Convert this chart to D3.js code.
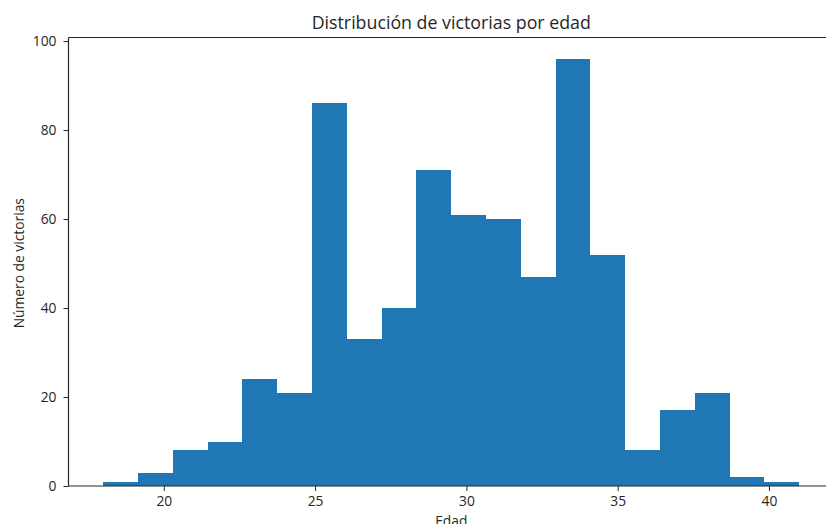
<!DOCTYPE html>
<html>
<head>
<meta charset="utf-8">
<script src="https://cdn.jsdelivr.net/npm/d3@7"></script>
<style>
  html, body { margin: 0; padding: 0; background: #fff; overflow: hidden; }
  svg { display: block; }
  text { font-family: "Open Sans", "Noto Sans", sans-serif; fill: #262626; }
</style>
</head>
<body>
<svg id="chart" width="826" height="524"></svg>
<script>
// Histogram bins: 20 equal-width bins spanning ages 18 to 41
const binStart = 18;
const binEnd = 41;
const binCount = 20;
const counts = [1, 3, 8, 10, 24, 21, 86, 33, 40, 71, 61, 60, 47, 96, 52, 8, 17, 21, 2, 1];
const xTicks = [20, 25, 30, 35, 40];
const yTicks = [0, 20, 40, 60, 80, 100];
const title = "Distribución de victorias por edad";
const xLabel = "Edad";
const yLabel = "Número de victorias";

const binWidth = (binEnd - binStart) / binCount;
const bins = counts.map((c, i) => ({
  x0: binStart + i * binWidth,
  x1: binStart + (i + 1) * binWidth,
  count: c
}));

const svg = d3.select("#chart");
const plotLeft = 68.5, plotTop = 37.5, plotBottom = 486, plotRight = 834;
const fontFamily = '"Open Sans", "Noto Sans", sans-serif';
const labelSize = "13.8px";

const pad = (binEnd - binStart) * 0.05;
const x = d3.scaleLinear().domain([binStart - pad, binEnd + pad]).range([plotLeft, plotRight]);
const y = d3.scaleLinear().domain([0, d3.max(counts) * 1.05]).range([plotBottom, plotTop]);

// Bars
svg.append("g").selectAll("rect")
  .data(bins)
  .join("rect")
  .attr("x", d => x(d.x0))
  .attr("width", d => x(d.x1) - x(d.x0))
  .attr("y", d => y(d.count))
  .attr("height", d => y(0) - y(d.count))
  .attr("fill", "#1f77b4")
  .attr("shape-rendering", "crispEdges");

// Axes
const xAxis = svg.append("g")
  .attr("transform", `translate(0,${plotBottom})`)
  .call(d3.axisBottom(x).tickValues(xTicks).tickSize(5).tickPadding(5).tickFormat(d3.format("d")));
const yAxis = svg.append("g")
  .attr("transform", `translate(${plotLeft},0)`)
  .call(d3.axisLeft(y).tickValues(yTicks).tickSize(5).tickPadding(7).tickFormat(d3.format("d")));

[xAxis, yAxis].forEach(g => {
  g.select(".domain").remove();
  g.selectAll("line").attr("stroke", "#262626").attr("stroke-width", 1);
  g.selectAll("text").style("font-size", labelSize).style("font-family", fontFamily).attr("fill", "#262626");
});

// Spines
const spine = svg.append("g").attr("stroke", "#262626").attr("stroke-width", 1.2).attr("fill", "none");
spine.append("line").attr("x1", plotLeft).attr("x2", plotLeft).attr("y1", plotTop).attr("y2", plotBottom);
spine.append("line").attr("x1", plotLeft).attr("x2", plotRight).attr("y1", plotBottom).attr("y2", plotBottom);
spine.append("line").attr("x1", plotLeft).attr("x2", plotRight).attr("y1", plotTop).attr("y2", plotTop);
spine.append("line").attr("x1", plotRight).attr("x2", plotRight).attr("y1", plotTop).attr("y2", plotBottom);

// Title and axis labels
svg.append("text")
  .attr("x", (plotLeft + plotRight) / 2).attr("y", 28.7)
  .attr("text-anchor", "middle")
  .style("font-size", "17.8px")
  .text(title);

svg.append("text")
  .attr("x", (plotLeft + plotRight) / 2).attr("y", 525.5)
  .attr("text-anchor", "middle")
  .style("font-size", labelSize)
  .text(xLabel);

svg.append("text")
  .attr("transform", `translate(24,${(plotTop + plotBottom) / 2 + 1.5}) rotate(-90)`)
  .attr("text-anchor", "middle")
  .style("font-size", labelSize)
  .text(yLabel);
</script>
</body>
</html>
